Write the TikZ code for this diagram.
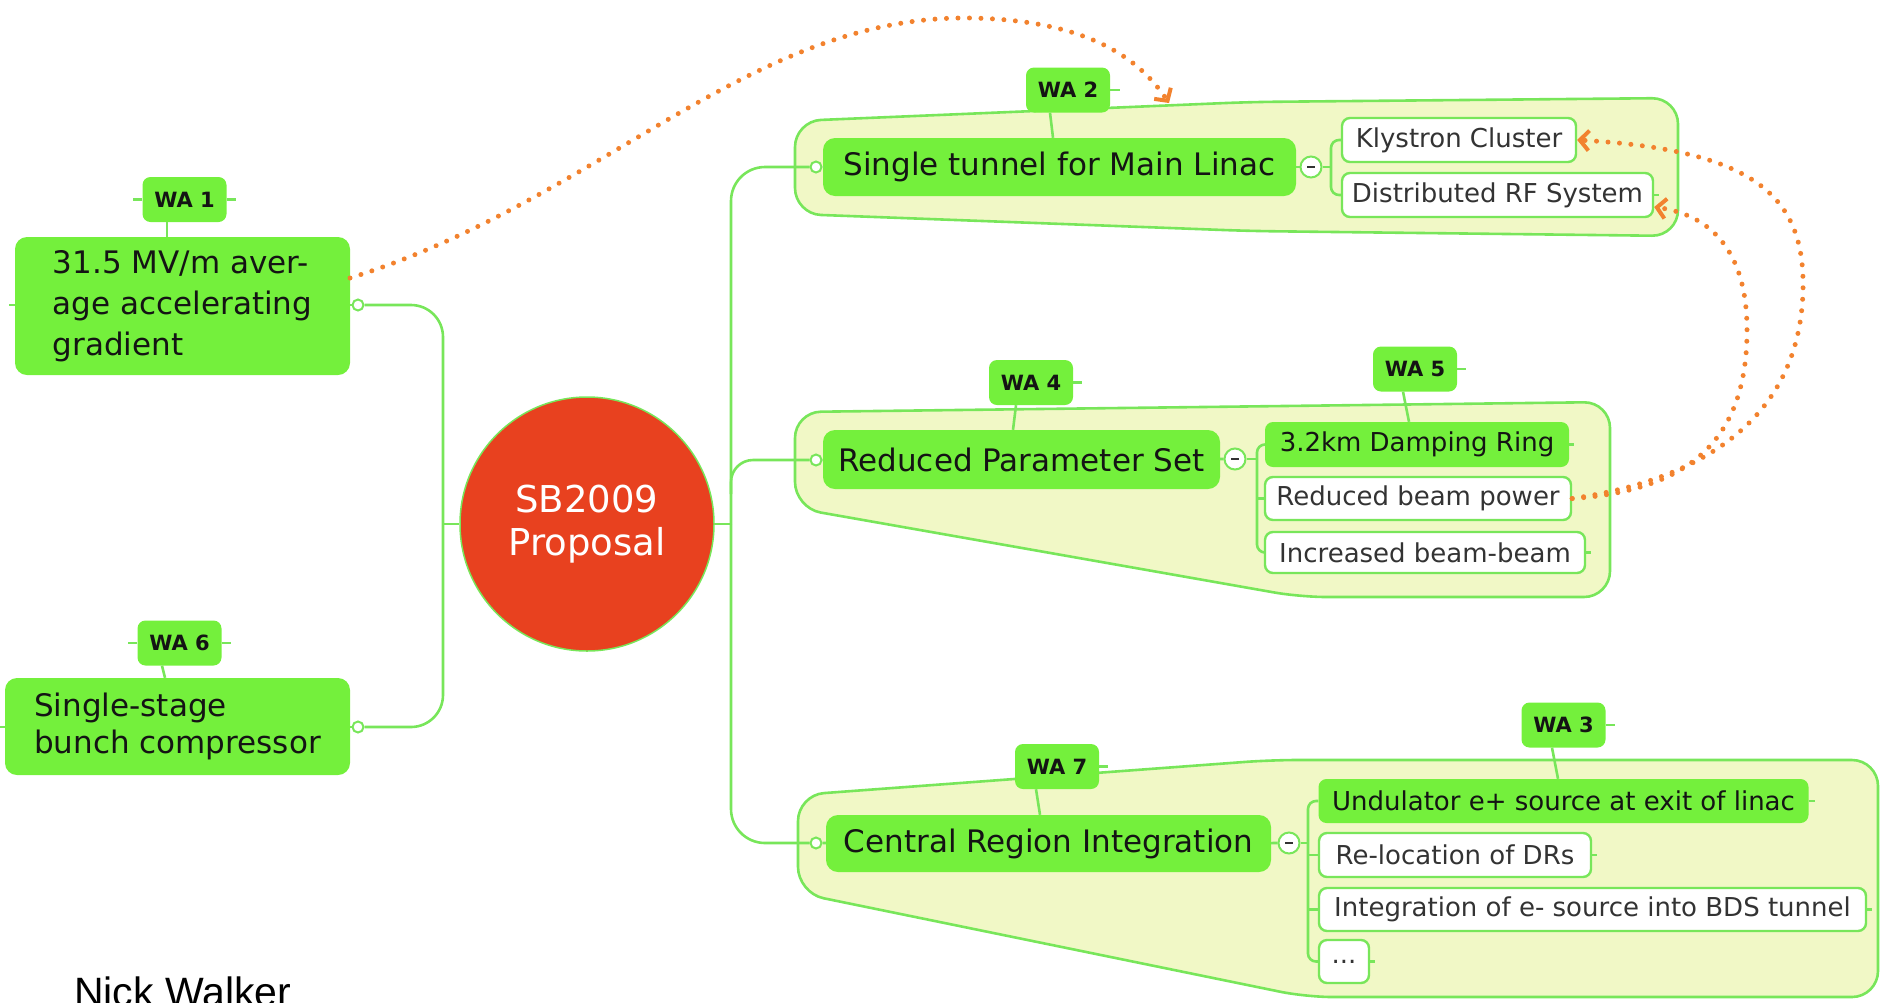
\documentclass[tikz,border=0pt]{standalone}
\usepackage{fontspec}
\setmainfont{DejaVu Sans}
\newfontfamily\nwfont{Liberation Sans}
\usetikzlibrary{arrows.meta,calc}
\definecolor{ngreen}{HTML}{74F03C}
\definecolor{lgreen}{HTML}{78E65A}
\definecolor{gfill}{HTML}{F1F8C6}
\definecolor{dorange}{HTML}{F2822E}
\definecolor{cred}{HTML}{E8411F}
\definecolor{ntext}{HTML}{141414}
\definecolor{stext}{HTML}{333333}
\begin{document}
\begin{tikzpicture}[x=1pt,y=-1pt,
  conn/.style={draw=lgreen,line width=2.6pt},
  groupbox/.style={draw=lgreen,line width=2.6pt,fill=gfill,rounded corners=26pt},
  topic/.style={fill=ngreen,rounded corners=12pt,inner sep=0pt,text=ntext,font=\fontsize{31}{41}\selectfont,align=left},
  subg/.style={fill=ngreen,rounded corners=8pt,inner sep=0pt,text=ntext,font=\fontsize{26}{30}\selectfont},
  subw/.style={fill=white,draw=lgreen,line width=2.4pt,rounded corners=8pt,inner sep=0pt,text=stext,font=\fontsize{26}{30}\selectfont},
  tag/.style={fill=ngreen,rounded corners=8pt,inner sep=0pt,minimum width=84pt,minimum height=45pt,text=ntext,font=\fontsize{21}{24}\selectfont\bfseries},
  knob/.style={circle,fill=white,draw=lgreen,line width=2pt,inner sep=0pt,minimum size=11pt},
  fold/.style={circle,fill=white,draw=lgreen,line width=2pt,inner sep=0pt,minimum size=21pt},
  rel/.style={draw=dorange,line width=5pt,line cap=round,dash pattern=on 0pt off 11.5pt,-{Straight Barb[length=9pt,width=20pt,line width=4pt]}},
]
\useasboundingbox (0,0) rectangle (1881,1002);
\clip (0,0) rectangle (1881,1002);

% groups (boundaries)
\path[groupbox] (795,121) -- (1250,102) -- (1678,98) -- (1678,236) -- (1250,231) -- (795,214) -- cycle;
\path[groupbox] (795,412) -- (1610,402) -- (1610,597) -- (1300,597) -- (795,508) -- cycle;
\path[groupbox] (798,795) -- (1271,760) -- (1878,760) -- (1878,997) -- (1306,997) -- (798,893) -- cycle;

% left side
\node[topic,minimum width=335pt,minimum height=138pt] (n1) at (182.5,306) {31.5 MV/m aver-\\age accelerating\\gradient};
\node[tag] (t1) at (184.5,199.5) {WA 1};
\node[topic,minimum width=345pt,minimum height=97pt,font=\fontsize{31}{37}\selectfont] (n6) at (177.5,726.5) {Single-stage\\bunch compressor};
\node[tag] (t6) at (179.5,643) {WA 6};

% centre
\node[circle,fill=cred,draw=lgreen,line width=1.5pt,minimum size=254pt,inner sep=0pt,text=white,align=center,font=\fontsize{37}{43}\selectfont] (sb) at (587,524) {SB2009\\Proposal};

% knobs
\node[knob] (k1) at (358,305) {};
\node[knob] (k6) at (358,727) {};
\node[knob] (kT) at (816,167) {};
\node[knob] (kM) at (816,460) {};
\node[knob] (kB) at (816,843) {};

\coordinate (jl) at (443,524);
\coordinate (jr) at (731,524);
\coordinate (jm) at (731,494);

% group 1
\node[topic,minimum width=473pt,minimum height=58pt] (n2) at (1059.5,167) {Single tunnel for Main Linac};
\node[tag] (t2) at (1068,90) {WA 2};
\node[fold] (f2) at (1311,167) {\textcolor{stext}{\rule{8pt}{2.5pt}}};
\node[subw,minimum width=234pt,minimum height=44pt] (s21) at (1459,140) {Klystron Cluster};
\node[subw,minimum width=311pt,minimum height=44pt] (s22) at (1497.5,195) {Distributed RF System};
\coordinate (b2) at (1331,167);

% group 2
\node[topic,minimum width=397pt,minimum height=59pt] (n4) at (1021.5,459.5) {Reduced Parameter Set};
\node[tag] (t4) at (1031,382.5) {WA 4};
\node[fold] (f4) at (1235,459) {\textcolor{stext}{\rule{8pt}{2.5pt}}};
\node[subg,minimum width=304pt,minimum height=45pt] (s41) at (1417,444.5) {3.2km Damping Ring};
\node[subw,minimum width=306pt,minimum height=43pt] (s42) at (1418,498.5) {Reduced beam power};
\node[subw,minimum width=320pt,minimum height=41pt] (s43) at (1425,552.5) {Increased beam-beam};
\node[tag] (t5) at (1415,369) {WA 5};
\coordinate (b4) at (1257,459);

% group 3
\node[topic,minimum width=445pt,minimum height=57pt] (n7) at (1048.5,843.5) {Central Region Integration};
\node[tag] (t7) at (1057,766.5) {WA 7};
\node[fold] (f7) at (1289,843) {\textcolor{stext}{\rule{8pt}{2.5pt}}};
\node[subg,minimum width=490pt,minimum height=44pt] (s71) at (1563.5,801) {Undulator e+ source at exit of linac};
\node[subw,minimum width=272pt,minimum height=44pt] (s72) at (1455,855) {Re-location of DRs};
\node[subw,minimum width=547pt,minimum height=43pt] (s73) at (1592.5,909.5) {Integration of e- source into BDS tunnel};
\node[subw,minimum width=50pt,minimum height=43pt] (s74) at (1344,961.5) {...};
\node[tag] (t3) at (1563.5,725) {WA 3};
\coordinate (b7) at (1308,843);

% trunk connectors
\draw[conn,rounded corners=32pt] (k1) -- (k1 -| jl) -- (k6 -| jl) -- (k6);
\draw[conn] (jl) -- (sb);
\draw[conn] (sb) -- (jr);
\draw[conn,rounded corners=34pt] (jr) -- (jr |- kT) -- (kT);
\draw[conn,rounded corners=34pt] (jr) -- (jr |- kB) -- (kB);
\draw[conn,rounded corners=22pt] (jm) -- (jm |- kM) -- (kM);
\draw[conn] (k1) -- (n1.east |- k1);
\draw[conn] (k6) -- (n6.east |- k6);
\draw[conn] (kT) -- (n2);
\draw[conn] (kM) -- (n4);
\draw[conn] (kB) -- (n7);

% fold connectors and brackets
\draw[conn] (n2) -- (f2);
\draw[conn] (f2) -- (b2);
\draw[conn,rounded corners=8pt] (s21.west) -- (s21.west -| b2) -- (s22.west -| b2) -- (s22.west);
\draw[conn] (n4) -- (f4);
\draw[conn] (f4) -- (b4);
\draw[conn,rounded corners=8pt] (s41.west) -- (s41.west -| b4) -- (s43.west -| b4) -- (s43.west);
\draw[conn] (s42.west -| b4) -- (s42.west);
\draw[conn] (n7) -- (f7);
\draw[conn] (f7) -- (b7);
\draw[conn,rounded corners=8pt] (s71.west) -- (s71.west -| b7) -- (s74.west -| b7) -- (s74.west);
\draw[conn] (s72.west -| b7) -- (s72.west);
\draw[conn] (s73.west -| b7) -- (s73.west);

% tag connectors
\draw[conn] ([xshift=-17.5pt]t1.south) -- ([xshift=-15.5pt]n1.north);
\draw[conn] ([xshift=-17.5pt]t6.south) -- ([xshift=-12.5pt]n6.north);
\draw[conn] ([xshift=-18pt]t2.south) -- ([xshift=-6.5pt]n2.north);
\draw[conn] ([xshift=-15pt]t4.south) -- ([xshift=-8.5pt]n4.north);
\draw[conn] ([xshift=-12pt]t5.south) -- ([xshift=-8pt]s41.north);
\draw[conn] ([xshift=-21pt]t7.south) -- ([xshift=-8.5pt]n7.north);
\draw[conn] ([xshift=-11.5pt]t3.south) -- ([xshift=-5.5pt]s71.north);

% small stubs
\draw[conn] (t1.west) -- ++(-9,0);
\draw[conn] (t1.east) -- ++(9,0);
\draw[conn] (t6.west) -- ++(-9,0);
\draw[conn] (t6.east) -- ++(9,0);
\draw[conn] (t2.east) -- ++(10,0);
\draw[conn] (t4.east) -- ++(9,0);
\draw[conn] (t5.east) -- ++(9,0);
\draw[conn] (t7.east) -- ++(9,0);
\draw[conn] (t3.east) -- ++(9,0);
\draw[conn] (n1.west |- k1) -- ++(-6,0);
\draw[conn] (n6.west |- k6) -- ++(-6,0);
\draw[conn] (s22.east) -- ++(5,0);
\draw[conn] (s41.east) -- ++(5,0);
\draw[conn] (s43.east) -- ++(5,0);
\draw[conn] (s71.east) -- ++(6,0);
\draw[conn] (s72.east) -- ++(5,0);
\draw[conn] (s73.east) -- ++(5,0);
\draw[conn] (s74.east) -- ++(5,0);

% relationships (orange dotted)
\coordinate (o1) at (350,278);
\coordinate (tA) at (1169,103);
\draw[rel] (o1) .. controls (600,200) and (750,15) .. (970,18) .. controls (1090,20) and (1140,60) .. (tA);
\draw[rel] (s42.east) .. controls (1700,480) and (1800,420) .. (1803,290) .. controls (1805,200) and (1760,150) .. (s21.east);
\draw[rel] (s42.east) .. controls (1700,490) and (1747,430) .. (1747,330) .. controls (1747,250) and (1710,215) .. ([yshift=-12pt]s22.east);

% author
\node[anchor=base west,inner sep=0pt,font=\nwfont\fontsize{41}{45}\selectfont] (nw) at (74,1006) {Nick Walker};
\end{tikzpicture}
\end{document}
